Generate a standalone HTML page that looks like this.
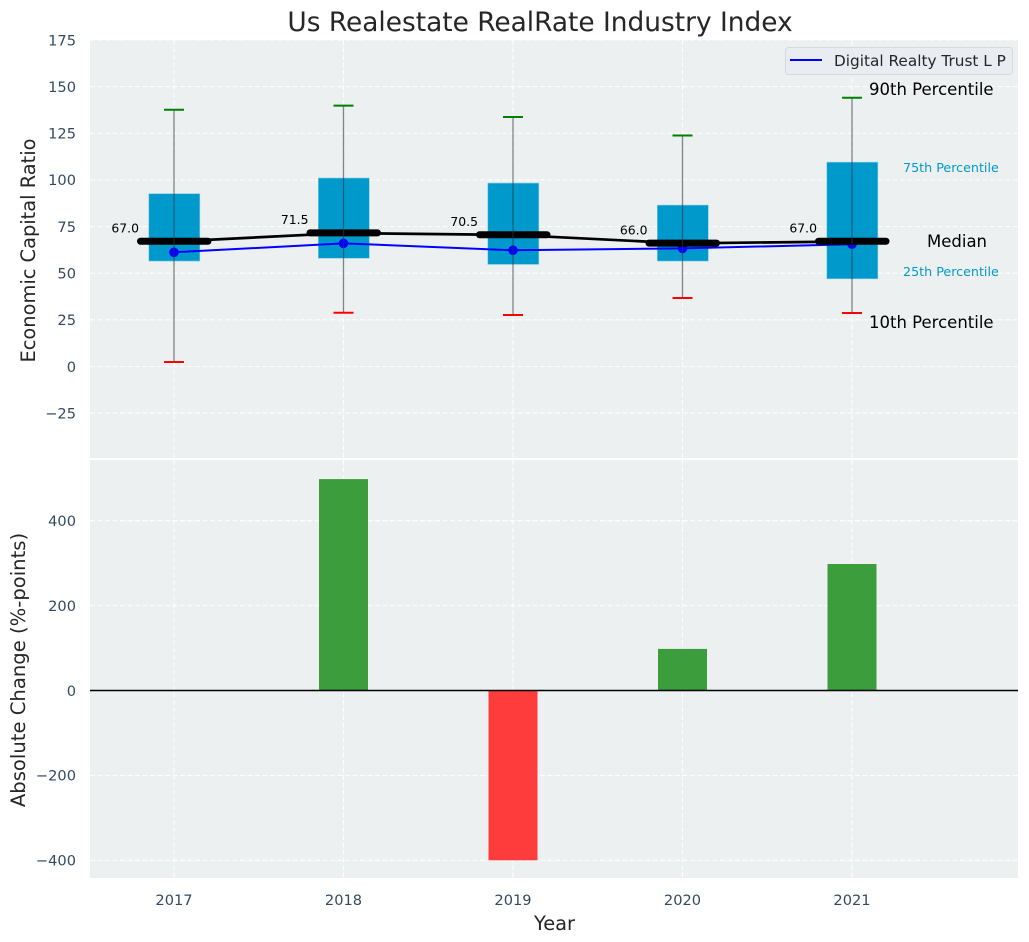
<!DOCTYPE html>
<html>
<head>
<meta charset="utf-8">
<title>Us Realestate RealRate Industry Index</title>
<style>
html,body{margin:0;padding:0;background:#fff;}
svg{display:block;font-family:"DejaVu Sans","Liberation Sans",sans-serif;}
</style>
</head>
<body>
<svg id="chart" xmlns="http://www.w3.org/2000/svg" width="1029" height="942" viewBox="0 0 1029 942"></svg>
<script>
const years = [2017, 2018, 2019, 2020, 2021];
const p90 = [137.6, 139.8, 133.7, 123.8, 144];
const p75 = [92.6, 101, 98.3, 86.5, 109.5];
const medians = [67, 71.5, 70.5, 66, 67];
const p25 = [56.5, 58, 54.7, 56.5, 47];
const p10 = [2.4, 28.8, 27.6, 36.7, 28.7];
const company = [61.2, 66, 62.3, 63.3, 65.5];
const changes = [0, 498, -400, 98, 298];
const topTicks = [-25, 0, 25, 50, 75, 100, 125, 150, 175];
const bottomTicks = [-400, -200, 0, 200, 400];

const NS = 'http://www.w3.org/2000/svg';
const svg = document.getElementById('chart');
const L = 90, R = 1018, TT = 40, TB = 459, BT = 460, BB = 878;
const x = v => 174 + (v - 2017) * 169.5;
const yTop = v => 366.5 - v * 1.866;
const yBot = v => 690.5 - v * 0.4245;
const fmt = v => v < 0 ? '\u2212' + Math.abs(v) : String(v);

function mk(tag, props, text) {
  const el = document.createElementNS(NS, tag);
  for (const k in props) el.setAttribute(k, props[k]);
  if (text !== undefined) el.textContent = text;
  svg.appendChild(el);
  return el;
}
let el;

el = mk('rect', {x: L, y: TT, width: R - L, height: TB - TT, fill: '#ecf0f1'});


el = mk('rect', {x: L, y: BT, width: R - L, height: BB - BT, fill: '#ecf0f1'});



const grid = {stroke: '#fff', 'stroke-width': 1.1, 'stroke-dasharray': '5 2.5', opacity: 0.9};
topTicks.forEach(t => {
  el = mk('line', {x1: L, x2: R, y1: yTop(t), y2: yTop(t), ...grid});
  
  
  el = mk('text', {x: 76, y: yTop(t) + 5.3, 'text-anchor': 'end', 'font-size': 14.6, fill: '#34495e'}, fmt(t));
  
  
});
bottomTicks.forEach(t => {
  el = mk('line', {x1: L, x2: R, y1: yBot(t), y2: yBot(t), ...grid});
  
  
  el = mk('text', {x: 76, y: yBot(t) + 5.3, 'text-anchor': 'end', 'font-size': 14.6, fill: '#34495e'}, fmt(t));
  
  
});
years.forEach(yr => {
  el = mk('line', {x1: x(yr), x2: x(yr), y1: TT, y2: TB, ...grid});
  
  
  el = mk('line', {x1: x(yr), x2: x(yr), y1: BT, y2: BB, ...grid});
  
  
  el = mk('text', {x: x(yr), y: 905, 'text-anchor': 'middle', 'font-size': 14.6, fill: '#34495e'}, String(yr));
  
  
});

el = mk('line', {x1: L, x2: R, y1: 459, y2: 459, stroke: '#fff', 'stroke-width': 2});



// boxes
years.forEach((yr, i) => {
  el = mk('rect', {x: x(yr) - 25.2, y: yTop(p75[i]), width: 51, height: yTop(p25[i]) - yTop(p75[i]), fill: '#0099cc', stroke: '#7fcce5', 'stroke-width': 0.6});
  
  
});

// company line
const companyPts = years.map((yr, i) => x(yr) + ',' + yTop(company[i])).join(' ');
el = mk('polyline', {points: companyPts, fill: 'none', stroke: '#0000ff', 'stroke-width': 2});


years.forEach((yr, i) => {
  el = mk('circle', {cx: x(yr), cy: yTop(company[i]), r: 4.8, fill: '#0000ff'});
  
  
});

// median line
const medianPts = years.map((yr, i) => x(yr) + ',' + yTop(medians[i])).join(' ');
el = mk('polyline', {points: medianPts, fill: 'none', stroke: '#000', 'stroke-width': 2.7});


years.forEach((yr, i) => {
  el = mk('line', {x1: x(yr) - 33.5, x2: x(yr) + 34, y1: yTop(medians[i]) - 0.2, y2: yTop(medians[i]) - 0.2, stroke: '#000', 'stroke-width': 7, 'stroke-linecap': 'round'});
  
  
  el = mk('text', {x: x(yr) - 35, y: yTop(medians[i]) - 9, 'text-anchor': 'end', 'font-size': 12.4, fill: '#000'}, medians[i].toFixed(1));
  
  
});

// whiskers
years.forEach((yr, i) => {
  el = mk('line', {x1: x(yr), x2: x(yr), y1: yTop(p90[i]), y2: yTop(p10[i]), stroke: '#2b3a42', 'stroke-opacity': 0.6, 'stroke-width': 1.3});
  
  
  el = mk('line', {x1: x(yr) - 10, x2: x(yr) + 10, y1: yTop(p90[i]), y2: yTop(p90[i]), stroke: '#008000', 'stroke-width': 2});
  
  
  el = mk('line', {x1: x(yr) - 10, x2: x(yr) + 10, y1: yTop(p10[i]), y2: yTop(p10[i]), stroke: '#ff0000', 'stroke-width': 2});
  
  
});

// change bars
years.forEach((yr, i) => {
  const v = changes[i];
  if (v === 0) return;
  const y0 = Math.min(yBot(v), yBot(0));
  const h = Math.abs(yBot(v) - yBot(0));
  el = mk('rect', {x: x(yr) - 24.5, y: y0, width: 49, height: h, fill: v > 0 ? '#3c9d3c' : '#ff3c3c'});
  
  
});
el = mk('line', {x1: L, x2: R, y1: yBot(0), y2: yBot(0), stroke: '#000', 'stroke-width': 1.4});



// annotations
el = mk('text', {x: 869, y: 95, 'font-size': 16.5, fill: '#000'}, '90th Percentile');


el = mk('text', {x: 903, y: 172, 'font-size': 12.7, fill: '#0099cc'}, '75th Percentile');


el = mk('text', {x: 927, y: 247, 'font-size': 16.5, fill: '#000'}, 'Median');


el = mk('text', {x: 903, y: 276, 'font-size': 12.7, fill: '#0099cc'}, '25th Percentile');


el = mk('text', {x: 869, y: 328, 'font-size': 16.5, fill: '#000'}, '10th Percentile');



// legend
el = mk('rect', {x: 785.5, y: 47.5, width: 227, height: 27, rx: 3, fill: '#e9ecf1', stroke: '#d6d9dc', 'stroke-width': 1});


el = mk('line', {x1: 790, x2: 822, y1: 60, y2: 60, stroke: '#0000ff', 'stroke-width': 2});


el = mk('text', {x: 834, y: 66, 'font-size': 15.3, fill: '#262626'}, 'Digital Realty Trust L P');



// titles
el = mk('text', {x: 540, y: 31, 'text-anchor': 'middle', 'font-size': 26.4, fill: '#262626'}, 'Us Realestate RealRate Industry Index');


el = mk('text', {x: 554.5, y: 930, 'text-anchor': 'middle', 'font-size': 19.4, fill: '#262626'}, 'Year');


el = mk('text', {transform: 'translate(35,250.5) rotate(-90)', 'text-anchor': 'middle', 'font-size': 19.4, fill: '#262626'}, 'Economic Capital Ratio');


el = mk('text', {transform: 'translate(25,670) rotate(-90)', 'text-anchor': 'middle', 'font-size': 19.6, fill: '#262626'}, 'Absolute Change (%-points)');


</script>
</body>
</html>
